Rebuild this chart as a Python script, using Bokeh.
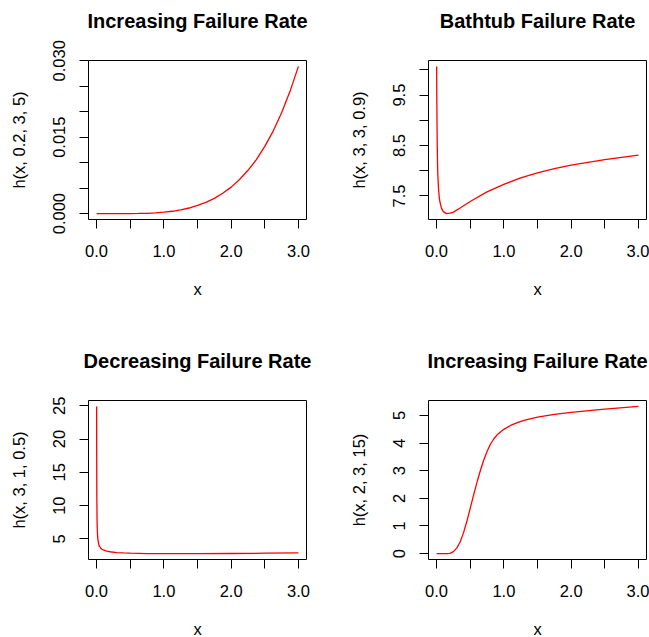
from bokeh.plotting import figure
from bokeh.models import Range1d, FixedTicker, Title
from bokeh.layouts import gridplot
from bokeh.embed import file_html
from bokeh.resources import INLINE

# ---------------- data ----------------
x_from, x_to = 0.0, 3.0
x_ticks = [0.0, 0.5, 1.0, 1.5, 2.0, 2.5, 3.0]
x_tick_labels = ["0.0", "", "1.0", "", "2.0", "", "3.0"]

titles = ["Increasing Failure Rate", "Bathtub Failure Rate",
          "Decreasing Failure Rate", "Increasing Failure Rate"]
y_labels = ["h(x, 0.2, 3, 5)", "h(x, 3, 3, 0.9)", "h(x, 3, 1, 0.5)", "h(x, 2, 3, 15)"]
x_label = "x"

# panel 1: increasing failure rate h(x, 0.2, 3, 5)
inc1_x = [0.0, 0.125, 0.25, 0.375, 0.5, 0.625, 0.75, 0.875, 1.0, 1.125, 1.25, 1.375,
          1.5, 1.625, 1.75, 1.875, 2.0, 2.125, 2.25, 2.375, 2.5, 2.625, 2.75, 2.875, 3.0]
inc1_h = [0.0, 0.0, 0.000001, 0.000004, 0.00001, 0.00003, 0.00006, 0.00015, 0.00028,
          0.00046, 0.00072, 0.0011, 0.0016, 0.0022, 0.0030, 0.0040, 0.0052, 0.0067,
          0.0085, 0.0106, 0.0132, 0.0162, 0.0198, 0.0240, 0.0289]
inc1_yticks = [0.0, 0.005, 0.010, 0.015, 0.020, 0.025, 0.030]
inc1_ytick_labels = ["0.000", "", "", "0.015", "", "", "0.030"]

# panel 2: bathtub failure rate h(x, 3, 3, 0.9)
bath_x = [0.001, 0.003, 0.006, 0.01, 0.015, 0.02, 0.03, 0.04, 0.05, 0.075, 0.1, 0.15,
          0.2, 0.25, 0.35, 0.5, 0.75, 1.0, 1.25, 1.5, 1.75, 2.0, 2.25, 2.5, 2.75, 3.0]
bath_h = [10.07, 9.6, 9.0, 8.5, 8.1, 7.88, 7.62, 7.47, 7.38, 7.25, 7.19, 7.15,
          7.16, 7.18, 7.26, 7.39, 7.58, 7.73, 7.86, 7.96, 8.04, 8.11, 8.165, 8.22, 8.265, 8.31]
bath_yticks = [7.5, 8.0, 8.5, 9.0, 9.5, 10.0]
bath_ytick_labels = ["7.5", "", "8.5", "", "9.5", ""]

# panel 3: decreasing failure rate h(x, 3, 1, 0.5)
dec_x = [0.001, 0.002, 0.004, 0.007, 0.01, 0.015, 0.02, 0.03, 0.04, 0.06, 0.08, 0.1,
         0.15, 0.2, 0.3, 0.4, 0.5, 0.75, 1.0, 1.5, 2.0, 2.5, 3.0]
dec_h = [24.9, 17.0, 11.0, 8.0, 6.6, 5.5, 4.9, 4.3, 3.95, 3.65, 3.45, 3.35,
         3.18, 3.08, 2.96, 2.9, 2.86, 2.81, 2.8, 2.8, 2.82, 2.86, 2.9]
dec_yticks = [5, 10, 15, 20, 25]
dec_ytick_labels = ["5", "10", "15", "20", "25"]

# panel 4: increasing failure rate h(x, 2, 3, 15)
inc2_x = [0.0, 0.1, 0.15, 0.2, 0.25, 0.3, 0.35, 0.4, 0.45, 0.5, 0.55, 0.6, 0.65, 0.7,
          0.75, 0.8, 0.85, 0.9, 1.0, 1.1, 1.2, 1.3, 1.5, 1.75, 2.0, 2.5, 3.0]
inc2_h = [0.0, 0.0, 0.0, 0.01, 0.07, 0.2, 0.42, 0.75, 1.17, 1.64, 2.12, 2.58, 3.0, 3.38,
          3.7, 3.96, 4.15, 4.3, 4.5, 4.64, 4.74, 4.82, 4.94, 5.04, 5.11, 5.23, 5.33]
inc2_yticks = [0, 1, 2, 3, 4, 5]
inc2_ytick_labels = ["0", "1", "2", "3", "4", "5"]

# ---------------- styling ----------------
FONT = "Liberation Sans"
TICK_SIZE = "16.5px"
TITLE_SIZE = "20px"
FRAME_W, FRAME_H = 218, 159


def r_range(lo, hi):
    pad = 0.04 * (hi - lo)
    return Range1d(lo - pad, hi + pad)


def style_axis(ax, ticks, labels, tick_standoff, label_standoff):
    ax.ticker = FixedTicker(ticks=ticks, minor_ticks=[])
    ax.major_label_overrides = {t: l for t, l in zip(ticks, labels)}
    ax.axis_line_color = None
    ax.major_tick_in = 0
    ax.major_tick_out = 9
    ax.major_tick_line_color = "black"
    ax.major_tick_line_width = 1
    ax.minor_tick_line_color = None
    ax.major_label_text_font = FONT
    ax.major_label_text_font_size = TICK_SIZE
    ax.major_label_text_color = "black"
    ax.major_label_standoff = tick_standoff
    ax.axis_label_text_font = FONT
    ax.axis_label_text_font_size = TICK_SIZE
    ax.axis_label_text_font_style = "normal"
    ax.axis_label_text_color = "black"
    ax.axis_label_standoff = label_standoff


def panel(xs, hs, title, ylab, yticks, ylabels, left, right, top, bottom):
    xr = r_range(x_from, x_to)
    yr = r_range(min(hs), max(hs))
    p = figure(frame_width=FRAME_W, frame_height=FRAME_H,
               x_range=xr, y_range=yr, title=None,
               toolbar_location=None, output_backend="svg",
               min_border_left=left, min_border_right=right,
               min_border_top=top, min_border_bottom=bottom)
    p.grid.visible = False
    p.outline_line_color = "black"
    p.outline_line_alpha = 1.0
    p.outline_line_width = 1
    p.background_fill_color = "white"
    p.border_fill_color = "white"
    style_axis(p.xaxis[0], x_ticks, x_tick_labels, 16, 20)
    style_axis(p.yaxis[0], yticks, ylabels, 14, 23)
    p.yaxis[0].major_label_orientation = "parallel"
    p.xaxis[0].axis_label = x_label
    p.yaxis[0].axis_label = ylab
    p.line(xs, hs, line_color="red", line_width=1.3)
    # white spacer next to the frame, then the bold title outside it
    p.add_layout(Title(text=".", text_font_size="4px", text_color="white",
                       standoff=24), "above")
    p.add_layout(Title(text=title, align="center", standoff=0,
                       text_font=FONT, text_font_size=TITLE_SIZE,
                       text_font_style="bold", text_color="black"), "above")
    return p


p1 = panel(inc1_x, inc1_h, titles[0], y_labels[0], inc1_yticks, inc1_ytick_labels,
           88, 19, 60, 121)
p2 = panel(bath_x, bath_h, titles[1], y_labels[1], bath_yticks, bath_ytick_labels,
           103, 3, 60, 121)
p3 = panel(dec_x, dec_h, titles[2], y_labels[2], dec_yticks, dec_ytick_labels,
           88, 19, 60, 78)
p4 = panel(inc2_x, inc2_h, titles[3], y_labels[3], inc2_yticks, inc2_ytick_labels,
           103, 3, 60, 78)

layout = gridplot([[p1, p2], [p3, p4]], toolbar_location=None)

with open("out.html", "w") as f:
    f.write(file_html(layout, INLINE))
